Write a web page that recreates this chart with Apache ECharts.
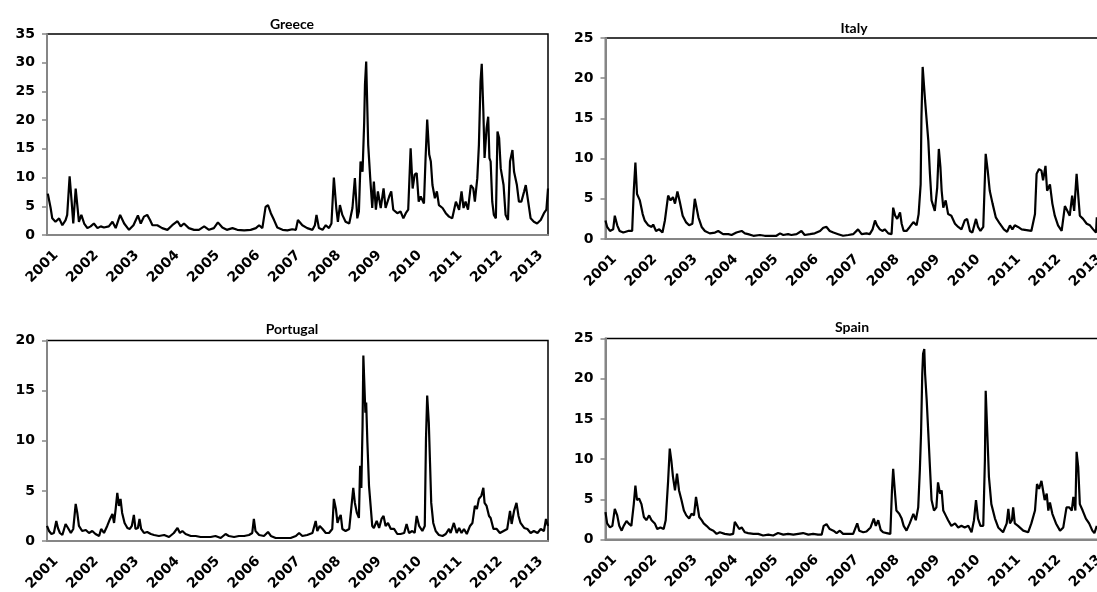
<!DOCTYPE html>
<html>
<head>
<meta charset="utf-8">
<script src="https://cdn.jsdelivr.net/npm/echarts@6/dist/echarts.min.js"></script>
<style>
html,body{margin:0;padding:0;background:#fff;}
#chart{width:1097px;height:592px;}
</style>
</head>
<body>
<div id="chart"></div>
<script>
// Tick labels (years) on the x axes
const yearTicks = [2001,2002,2003,2004,2005,2006,2007,2008,2009,2010,2011,2012,2013];

// Panel titles and y-axis maxima
const titles = ['Greece','Italy','Portugal','Spain'];
const yMax = [35, 25, 20, 25];

// Series: [decimal year, value]
const greece = [[2000.92,7.2],[2000.99,4.7],[2001.03,2.9],[2001.11,2.3],[2001.20,2.9],[2001.28,1.7],[2001.36,2.6],[2001.40,3.5],[2001.46,10.2],[2001.51,5.8],[2001.55,2.0],[2001.61,8.1],[2001.65,5.2],[2001.69,2.3],[2001.75,3.5],[2001.82,2.0],[2001.90,1.2],[2001.98,1.5],[2002.06,2.0],[2002.15,1.2],[2002.23,1.5],[2002.31,1.3],[2002.43,1.5],[2002.52,2.3],[2002.60,1.2],[2002.71,3.5],[2002.81,2.0],[2002.93,0.9],[2003.04,1.7],[2003.15,3.4],[2003.22,2.0],[2003.30,3.2],[2003.38,3.5],[2003.45,2.6],[2003.51,1.7],[2003.63,1.7],[2003.75,1.2],[2003.88,0.9],[2004.00,1.7],[2004.13,2.4],[2004.21,1.5],[2004.29,2.0],[2004.41,1.2],[2004.54,0.9],[2004.66,0.9],[2004.79,1.5],[2004.91,0.9],[2005.03,1.2],[2005.13,2.2],[2005.24,1.3],[2005.35,0.9],[2005.49,1.2],[2005.61,0.9],[2005.78,0.8],[2005.94,0.9],[2006.07,1.2],[2006.15,1.7],[2006.23,1.2],[2006.31,4.9],[2006.37,5.2],[2006.44,3.8],[2006.52,2.6],[2006.60,1.3],[2006.73,0.9],[2006.85,0.8],[2006.97,1.0],[2007.06,0.9],[2007.11,2.6],[2007.22,1.7],[2007.34,1.2],[2007.47,0.9],[2007.53,1.7],[2007.57,3.5],[2007.63,1.2],[2007.72,0.9],[2007.80,1.7],[2007.88,1.2],[2007.94,2.0],[2008.00,10.0],[2008.06,4.7],[2008.10,2.3],[2008.15,5.2],[2008.21,3.5],[2008.29,2.3],[2008.38,2.0],[2008.46,4.7],[2008.52,9.9],[2008.58,2.9],[2008.62,4.1],[2008.66,12.8],[2008.71,11.0],[2008.75,19.5],[2008.77,26.2],[2008.80,30.2],[2008.82,24.4],[2008.85,15.7],[2008.90,9.9],[2008.95,4.7],[2008.99,9.3],[2009.04,4.4],[2009.09,7.6],[2009.16,4.7],[2009.23,8.1],[2009.28,4.7],[2009.37,6.7],[2009.42,7.6],[2009.47,4.4],[2009.57,3.8],[2009.65,4.1],[2009.72,2.9],[2009.78,3.8],[2009.84,4.4],[2009.90,15.1],[2009.95,8.1],[2010.00,10.5],[2010.05,10.8],[2010.10,5.8],[2010.15,6.7],[2010.23,5.5],[2010.27,13.4],[2010.31,20.1],[2010.36,14.0],[2010.40,12.8],[2010.44,8.7],[2010.50,6.4],[2010.55,7.6],[2010.60,5.2],[2010.69,4.7],[2010.77,3.8],[2010.85,3.2],[2010.93,2.9],[2011.02,5.8],[2011.10,4.4],[2011.16,7.6],[2011.21,4.7],[2011.26,5.8],[2011.32,4.4],[2011.39,8.7],[2011.45,8.1],[2011.49,5.8],[2011.55,9.9],[2011.59,15.7],[2011.63,26.7],[2011.66,29.8],[2011.70,21.5],[2011.73,13.4],[2011.78,18.6],[2011.82,20.6],[2011.85,13.4],[2011.88,12.8],[2011.92,5.8],[2011.96,3.5],[2012.01,2.9],[2012.05,18.0],[2012.09,16.9],[2012.13,11.6],[2012.20,8.7],[2012.25,3.5],[2012.31,2.6],[2012.36,12.8],[2012.42,14.8],[2012.46,11.0],[2012.53,8.7],[2012.58,5.8],[2012.64,5.8],[2012.71,7.6],[2012.75,8.7],[2012.81,5.8],[2012.87,2.9],[2012.95,2.3],[2013.03,2.0],[2013.12,2.6],[2013.20,3.8],[2013.26,4.4],[2013.30,8.1]];

const italy = [[2000.90,2.3],[2000.94,1.5],[2001.01,1.0],[2001.09,1.2],[2001.13,2.9],[2001.19,1.7],[2001.25,1.0],[2001.34,0.8],[2001.46,1.0],[2001.56,1.0],[2001.60,6.0],[2001.64,9.5],[2001.68,5.6],[2001.75,4.8],[2001.82,3.1],[2001.87,2.3],[2001.96,1.7],[2002.04,1.5],[2002.08,1.8],[2002.15,1.0],[2002.23,1.2],[2002.31,0.8],[2002.37,2.3],[2002.45,5.4],[2002.51,4.8],[2002.57,5.2],[2002.62,4.4],[2002.68,5.9],[2002.74,4.6],[2002.81,2.9],[2002.89,2.1],[2002.97,1.7],[2003.05,1.9],[2003.11,5.0],[2003.15,4.8],[2003.20,2.7],[2003.28,1.5],[2003.36,1.0],[2003.48,0.7],[2003.61,0.8],[2003.69,1.0],[2003.81,0.6],[2003.94,0.6],[2004.02,0.5],[2004.14,0.8],[2004.27,1.0],[2004.35,0.7],[2004.43,0.6],[2004.56,0.4],[2004.72,0.5],[2004.84,0.4],[2005.01,0.4],[2005.13,0.4],[2005.22,0.7],[2005.30,0.5],[2005.42,0.6],[2005.50,0.5],[2005.63,0.6],[2005.75,1.0],[2005.83,0.5],[2005.96,0.6],[2006.08,0.7],[2006.21,1.0],[2006.29,1.4],[2006.37,1.5],[2006.45,1.0],[2006.54,0.8],[2006.66,0.6],[2006.78,0.4],[2006.91,0.5],[2007.03,0.6],[2007.15,1.2],[2007.24,0.6],[2007.36,0.7],[2007.44,0.6],[2007.51,1.2],[2007.57,2.3],[2007.62,1.7],[2007.69,1.2],[2007.76,1.0],[2007.81,1.2],[2007.90,0.7],[2007.98,0.6],[2008.02,3.9],[2008.07,2.9],[2008.12,2.5],[2008.19,3.3],[2008.23,1.9],[2008.28,1.0],[2008.35,1.0],[2008.43,1.5],[2008.52,2.1],[2008.60,1.7],[2008.65,3.1],[2008.70,6.8],[2008.72,15.1],[2008.75,21.4],[2008.78,21.2],[2008.81,17.2],[2008.85,14.7],[2008.89,12.2],[2008.93,8.1],[2008.97,4.8],[2009.05,3.5],[2009.11,6.4],[2009.15,11.2],[2009.19,8.9],[2009.22,6.0],[2009.26,3.9],[2009.32,4.8],[2009.38,3.1],[2009.46,2.9],[2009.55,1.9],[2009.63,1.5],[2009.71,1.2],[2009.79,2.3],[2009.85,2.5],[2009.92,1.0],[2009.98,0.8],[2010.07,2.5],[2010.12,1.5],[2010.18,1.0],[2010.25,1.5],[2010.31,10.6],[2010.36,8.5],[2010.41,6.0],[2010.48,4.4],[2010.56,2.7],[2010.66,1.9],[2010.76,1.2],[2010.84,0.9],[2010.91,1.7],[2010.97,1.2],[2011.03,1.7],[2011.11,1.5],[2011.20,1.2],[2011.32,1.1],[2011.44,1.0],[2011.53,3.1],[2011.57,8.1],[2011.63,8.7],[2011.69,8.5],[2011.73,7.3],[2011.79,9.1],[2011.83,6.0],[2011.90,6.8],[2011.96,4.4],[2012.02,2.9],[2012.10,1.7],[2012.19,1.0],[2012.27,4.1],[2012.33,3.5],[2012.39,2.9],[2012.45,5.4],[2012.50,3.5],[2012.56,8.1],[2012.61,4.8],[2012.64,2.9],[2012.72,2.5],[2012.81,1.9],[2012.89,1.7],[2012.97,1.2],[2013.04,0.8],[2013.06,2.7]];

const portugal = [[2000.90,1.5],[2000.95,1.0],[2001.01,0.7],[2001.07,0.8],[2001.13,2.0],[2001.17,1.3],[2001.22,0.8],[2001.28,0.6],[2001.36,1.7],[2001.42,1.3],[2001.49,0.8],[2001.55,1.2],[2001.61,3.7],[2001.65,2.8],[2001.69,1.5],[2001.77,1.0],[2001.86,1.1],[2001.94,0.8],[2002.02,1.0],[2002.10,0.7],[2002.19,0.5],[2002.24,1.2],[2002.31,0.8],[2002.39,1.5],[2002.46,2.2],[2002.52,2.7],[2002.56,1.8],[2002.60,3.2],[2002.64,4.8],[2002.68,3.5],[2002.72,4.2],[2002.76,2.8],[2002.82,1.8],[2002.89,1.3],[2002.95,1.2],[2003.00,1.5],[2003.05,2.6],[2003.09,1.2],[2003.15,1.3],[2003.19,2.2],[2003.23,1.2],[2003.30,0.8],[2003.38,0.9],[2003.47,0.7],[2003.55,0.6],[2003.67,0.5],[2003.80,0.6],[2003.92,0.4],[2004.04,0.8],[2004.13,1.3],[2004.19,0.8],[2004.25,1.0],[2004.33,0.7],[2004.46,0.5],[2004.58,0.5],[2004.70,0.4],[2004.83,0.4],[2004.95,0.4],[2005.07,0.5],[2005.20,0.3],[2005.32,0.7],[2005.40,0.5],[2005.53,0.4],[2005.65,0.5],[2005.78,0.5],[2005.90,0.6],[2005.98,0.8],[2006.02,2.2],[2006.06,1.0],[2006.15,0.6],[2006.27,0.5],[2006.37,0.9],[2006.44,0.5],[2006.56,0.3],[2006.68,0.3],[2006.81,0.3],[2006.93,0.3],[2007.06,0.5],[2007.14,0.8],[2007.22,0.5],[2007.34,0.6],[2007.47,0.8],[2007.55,2.0],[2007.59,1.0],[2007.65,1.5],[2007.72,1.2],[2007.80,0.8],[2007.88,0.8],[2007.96,1.2],[2008.00,4.2],[2008.05,3.2],[2008.09,1.8],[2008.13,2.3],[2008.17,2.6],[2008.21,1.2],[2008.29,1.0],[2008.38,1.2],[2008.43,3.2],[2008.48,5.3],[2008.52,3.8],[2008.57,2.8],[2008.62,2.3],[2008.65,7.5],[2008.68,5.3],[2008.71,11.5],[2008.73,18.5],[2008.75,16.2],[2008.78,12.8],[2008.80,13.8],[2008.83,9.8],[2008.87,5.5],[2008.91,3.5],[2008.95,1.5],[2008.99,1.3],[2009.06,2.0],[2009.12,1.3],[2009.18,2.2],[2009.23,2.5],[2009.28,1.5],[2009.34,1.8],[2009.41,1.2],[2009.49,1.2],[2009.57,0.7],[2009.65,0.7],[2009.74,0.8],[2009.80,1.7],[2009.86,0.8],[2009.94,1.0],[2010.00,0.8],[2010.05,2.5],[2010.11,1.5],[2010.19,1.0],[2010.25,1.5],[2010.28,10.2],[2010.31,14.5],[2010.35,11.8],[2010.38,7.8],[2010.41,3.8],[2010.46,1.8],[2010.52,1.0],[2010.60,0.6],[2010.69,0.5],[2010.77,0.7],[2010.85,1.2],[2010.89,0.8],[2010.97,1.8],[2011.04,0.8],[2011.10,1.3],[2011.16,0.8],[2011.22,1.2],[2011.29,0.7],[2011.37,1.5],[2011.43,1.8],[2011.49,3.5],[2011.54,3.2],[2011.59,4.2],[2011.65,4.5],[2011.70,5.3],[2011.73,3.8],[2011.78,3.5],[2011.84,2.5],[2011.88,2.3],[2011.95,1.2],[2012.03,1.2],[2012.11,0.8],[2012.20,1.0],[2012.29,1.2],[2012.36,3.0],[2012.40,1.7],[2012.46,3.0],[2012.52,3.8],[2012.57,2.5],[2012.62,1.8],[2012.71,1.3],[2012.79,1.2],[2012.87,0.8],[2012.95,1.0],[2013.04,0.8],[2013.12,1.2],[2013.20,1.0],[2013.25,2.2],[2013.30,1.5]];

const spain = [[2000.90,3.4],[2000.94,2.0],[2001.01,1.5],[2001.07,1.7],[2001.13,3.8],[2001.19,3.0],[2001.24,1.7],[2001.30,1.1],[2001.35,1.7],[2001.42,2.3],[2001.49,1.9],[2001.54,1.7],[2001.60,4.4],[2001.64,6.7],[2001.68,4.9],[2001.73,5.1],[2001.79,4.4],[2001.85,2.8],[2001.91,2.4],[2001.98,3.0],[2002.04,2.4],[2002.12,2.0],[2002.18,1.3],[2002.26,1.5],[2002.34,1.3],[2002.39,2.4],[2002.45,7.3],[2002.49,11.3],[2002.53,9.8],[2002.57,7.8],[2002.62,6.1],[2002.67,8.2],[2002.72,6.1],[2002.78,4.9],[2002.84,3.6],[2002.90,3.0],[2002.97,2.6],[2003.03,3.2],[2003.09,3.0],[2003.14,5.3],[2003.18,5.3],[2003.22,2.8],[2003.28,2.4],[2003.33,2.0],[2003.40,1.7],[2003.48,1.3],[2003.57,1.1],[2003.65,0.7],[2003.73,0.9],[2003.85,0.7],[2003.98,0.6],[2004.06,0.7],[2004.10,2.2],[2004.14,2.0],[2004.21,1.3],[2004.27,1.5],[2004.35,0.9],[2004.43,0.8],[2004.56,0.7],[2004.68,0.7],[2004.80,0.5],[2004.93,0.6],[2005.05,0.5],[2005.17,0.8],[2005.30,0.6],[2005.42,0.7],[2005.55,0.6],[2005.67,0.7],[2005.79,0.8],[2005.92,0.6],[2006.04,0.7],[2006.16,0.6],[2006.25,0.6],[2006.30,1.7],[2006.37,1.9],[2006.45,1.3],[2006.54,1.1],[2006.62,0.8],[2006.70,1.1],[2006.78,0.7],[2006.91,0.7],[2007.03,0.7],[2007.13,2.0],[2007.18,1.1],[2007.28,0.9],[2007.36,1.0],[2007.46,1.5],[2007.54,2.6],[2007.59,1.7],[2007.65,2.4],[2007.71,1.2],[2007.77,0.9],[2007.86,0.8],[2007.95,0.7],[2007.99,6.1],[2008.02,8.8],[2008.06,6.1],[2008.10,3.6],[2008.17,3.2],[2008.23,2.6],[2008.28,1.7],[2008.35,1.1],[2008.43,2.0],[2008.52,3.2],[2008.58,2.4],[2008.64,4.0],[2008.68,8.6],[2008.71,13.2],[2008.74,20.6],[2008.76,23.1],[2008.79,23.7],[2008.81,20.6],[2008.85,17.3],[2008.89,13.2],[2008.93,9.0],[2008.97,4.9],[2009.03,3.6],[2009.09,4.0],[2009.13,7.1],[2009.18,5.7],[2009.22,6.1],[2009.26,3.6],[2009.32,3.0],[2009.38,2.4],[2009.46,1.7],[2009.55,2.0],[2009.63,1.5],[2009.71,1.7],[2009.79,1.5],[2009.88,1.7],[2009.96,0.9],[2010.02,2.4],[2010.07,4.9],[2010.12,2.6],[2010.18,1.7],[2010.25,1.7],[2010.29,9.8],[2010.31,18.5],[2010.35,13.2],[2010.39,7.8],[2010.45,4.4],[2010.54,2.6],[2010.62,1.5],[2010.74,0.9],[2010.83,2.0],[2010.87,3.8],[2010.91,2.0],[2010.96,2.4],[2010.99,4.0],[2011.03,2.0],[2011.11,1.7],[2011.24,1.1],[2011.36,0.9],[2011.44,2.0],[2011.53,3.6],[2011.58,6.9],[2011.63,6.3],[2011.69,7.3],[2011.73,6.1],[2011.77,4.9],[2011.82,5.7],[2011.86,3.6],[2011.90,4.6],[2011.96,3.2],[2012.05,2.0],[2012.15,1.1],[2012.23,1.5],[2012.31,4.0],[2012.38,4.0],[2012.44,3.6],[2012.48,5.3],[2012.53,3.6],[2012.56,10.9],[2012.60,9.0],[2012.64,4.4],[2012.71,3.6],[2012.79,2.6],[2012.87,2.0],[2012.95,1.1],[2013.00,0.8],[2013.06,1.7]];

const seriesData = [greece, italy, portugal, spain];

// Layout (pixels)
const grids = [
  {left: 47,    top: 34,    width: 501, height: 201},
  {left: 605.5, top: 38,    width: 501, height: 201},
  {left: 47,    top: 340.5, width: 501, height: 200.5},
  {left: 605.5, top: 338.5, width: 501, height: 201}
];
const titlePos = [[292, 24], [854, 28.5], [292, 329], [852, 327.5]];

const axisFont = 'DejaVu Sans';
const grey = '#868686';

const chart = echarts.init(document.getElementById('chart'), null, {renderer: 'canvas'});

const option = {
  backgroundColor: '#fff',
  animation: false,
  grid: grids.map(g => Object.assign({
    show: true, borderColor: '#000', borderWidth: 1.5, backgroundColor: 'transparent',
    containLabel: false, outerBoundsMode: 'none'
  }, g)),
  xAxis: grids.map((g, i) => ({
    gridIndex: i,
    type: 'value',
    min: 2000.9,
    max: 2013.3,
    axisLine: {show: true, onZero: false, lineStyle: {color: grey, width: 2}},
    axisTick: {show: false},
    splitLine: {show: false},
    axisLabel: {
      customValues: yearTicks,
      formatter: v => String(Math.round(v)),
      rotate: 45,
      verticalAlign: 'top',
      margin: 13,
      color: '#000',
      fontFamily: axisFont,
      fontWeight: 'bold',
      fontSize: 14,
      hideOverlap: false
    }
  })),
  yAxis: grids.map((g, i) => ({
    gridIndex: i,
    type: 'value',
    min: 0,
    max: yMax[i],
    interval: 5,
    axisLine: {show: true, lineStyle: {color: grey, width: 2}},
    axisTick: {show: true, length: 5, lineStyle: {color: grey, width: 1.5}},
    splitLine: {show: false},
    axisLabel: {
      margin: 12,
      color: '#000',
      fontFamily: axisFont,
      fontWeight: 'bold',
      fontSize: 14
    }
  })),
  series: seriesData.map((d, i) => ({
    type: 'line',
    xAxisIndex: i,
    yAxisIndex: i,
    data: d,
    showSymbol: false,
    symbol: 'none',
    lineStyle: {color: '#000', width: 2.2},
    z: 3
  })),
  graphic: titles.map((t, i) => ({
    type: 'text',
    x: titlePos[i][0],
    y: titlePos[i][1],
    z: 10,
    style: {
      text: t,
      font: 'bold 14px Lato',
      fill: '#000',
      align: 'center',
      verticalAlign: 'middle',
      textAlign: 'center',
      textVerticalAlign: 'middle'
    }
  }))
};

chart.setOption(option);
</script>
</body>
</html>
